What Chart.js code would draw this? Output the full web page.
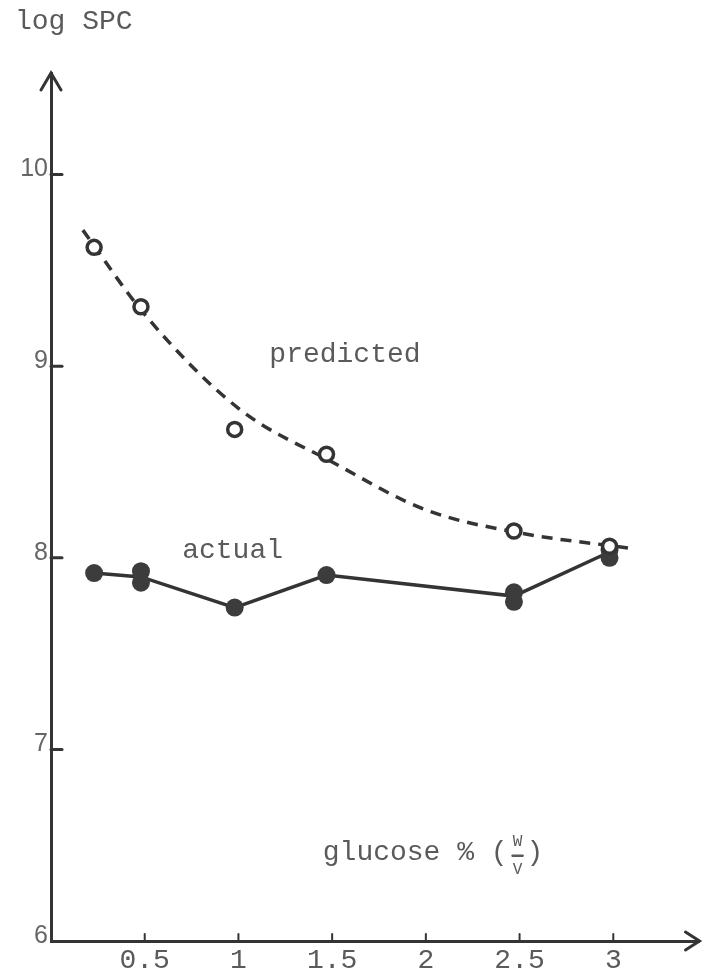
<!DOCTYPE html>
<html>
<head>
<meta charset="utf-8">
<script src="https://cdn.jsdelivr.net/npm/chart.js@4"></script>
<style>
  html, body { margin: 0; padding: 0; background: #fff; }
  #wrap { width: 710px; height: 978px; }
</style>
</head>
<body>
<div id="wrap"><canvas id="spcChart" width="710" height="978"></canvas></div>
<script>
// glucose % (w/v) at which samples were measured
const glucose = [0.23, 0.48, 0.98, 1.47, 2.47, 2.98];
const predicted = [9.62, 9.31, 8.67, 8.54, 8.14, 8.06];
// line through the actual values
const actualLine = [7.92, 7.90, 7.74, 7.91, 7.80, 8.03];
// replicate actual points (some overlap)
const actualX = [0.23, 0.48, 0.48, 0.98, 1.47, 2.47, 2.47, 2.98, 2.98];
const actualY = [7.92, 7.93, 7.87, 7.74, 7.91, 7.82, 7.77, 8.04, 8.00];
// hand drawn dashed fit of the predicted values
const fitX = [0.17, 0.5, 1, 1.5, 2, 2.5, 3.09];
const fitY = [9.71, 9.27, 8.78, 8.50, 8.25, 8.13, 8.05];

const xTicks = [0.5, 1, 1.5, 2, 2.5, 3];
const yTicks = [6, 7, 8, 9, 10];

const ink = '#343434';
const textGrey = '#5a5a5a';
const mono = 'Liberation Mono';

const toXY = (xs, ys) => xs.map((x, i) => ({ x: x, y: ys[i] }));

const decorations = {
    id: 'decorations',
    afterDraw(chart) {
        const ctx = chart.ctx;
        const area = chart.chartArea;
        const xs = chart.scales.x;
        const ys = chart.scales.y;
        ctx.save();
        ctx.strokeStyle = ink;
        ctx.lineWidth = 3;
        ctx.lineCap = 'round';

        // inward tick marks
        yTicks.forEach((v) => {
            if (v === 6) return;
            const py = ys.getPixelForValue(v);
            ctx.beginPath();
            ctx.moveTo(area.left, py);
            ctx.lineTo(area.left + 11, py);
            ctx.stroke();
        });
        ctx.lineWidth = 2;
        xTicks.forEach((v) => {
            const px = xs.getPixelForValue(v);
            ctx.beginPath();
            ctx.moveTo(px, area.bottom);
            ctx.lineTo(px, area.bottom - 7);
            ctx.stroke();
        });

        // arrow heads
        ctx.lineWidth = 3;
        ctx.beginPath();
        ctx.moveTo(area.left - 10, area.top + 17);
        ctx.lineTo(area.left, area.top);
        ctx.lineTo(area.left + 10, area.top + 17);
        ctx.stroke();
        ctx.beginPath();
        ctx.moveTo(area.right - 14, area.bottom - 9);
        ctx.lineTo(area.right, area.bottom);
        ctx.lineTo(area.right - 14, area.bottom + 9);
        ctx.stroke();

        // texts
        ctx.fillStyle = textGrey;
        ctx.textBaseline = 'middle';
        ctx.textAlign = 'left';
        ctx.font = '28px "' + mono + '"';
        ctx.fillText('log SPC', 15, 22);
        ctx.fillText('predicted', xs.getPixelForValue(1.165), ys.getPixelForValue(9.06));
        ctx.fillText('actual', xs.getPixelForValue(0.7), ys.getPixelForValue(8.04));

        const gx = xs.getPixelForValue(1.45);
        const gy = ys.getPixelForValue(6.46);
        ctx.fillText('glucose % (', gx, gy);
        const w = ctx.measureText('glucose % (').width;
        ctx.font = '16px "' + mono + '"';
        ctx.textAlign = 'center';
        const fx = gx + w + 10;
        ctx.fillText('W', fx, gy - 11);
        ctx.fillText('V', fx, gy + 17);
        ctx.lineWidth = 2.5;
        ctx.strokeStyle = textGrey;
        ctx.beginPath();
        ctx.moveTo(fx - 5, gy + 3);
        ctx.lineTo(fx + 5, gy + 3);
        ctx.stroke();
        ctx.font = '28px "' + mono + '"';
        ctx.textAlign = 'left';
        ctx.fillText(')', fx + 9, gy);
        ctx.restore();
    },
};

const chartConfig = {
    type: 'scatter',
    data: {
        datasets: [
            {
                label: 'predicted',
                data: toXY(glucose, predicted),
                pointStyle: 'circle',
                pointRadius: 7,
                pointBorderWidth: 3.5,
                pointBackgroundColor: '#ffffff',
                pointBorderColor: ink,
                showLine: false,
            },
            {
                label: 'actual points',
                data: toXY(actualX, actualY),
                pointRadius: 9,
                pointBorderWidth: 0,
                pointBackgroundColor: '#3c3c3c',
                showLine: false,
            },
            {
                type: 'line',
                label: 'predicted fit',
                data: toXY(fitX, fitY),
                borderColor: ink,
                borderWidth: 3.5,
                borderDash: [11, 8],
                cubicInterpolationMode: 'monotone',
                pointRadius: 0,
                fill: false,
            },
            {
                type: 'line',
                label: 'actual',
                data: toXY(glucose, actualLine),
                borderColor: ink,
                borderWidth: 3.5,
                tension: 0,
                pointRadius: 0,
                fill: false,
            },
        ],
    },
    options: {
        responsive: false,
        animation: false,
        clip: false,
        layout: { padding: { top: 73, right: 2, left: 0, bottom: 0 } },
        plugins: {
            legend: { display: false },
            tooltip: { enabled: false },
        },
        scales: {
            x: {
                type: 'linear',
                min: 0,
                max: 3.46,
                afterBuildTicks: (scale) => {
                    scale.ticks = xTicks.map((v) => ({ value: v }));
                },
                afterFit: (scale) => { scale.height = 37; },
                grid: { display: false, drawTicks: false },
                border: { display: true, color: ink, width: 3 },
                ticks: {
                    padding: 3,
                    color: textGrey,
                    font: { family: mono, size: 28 },
                    callback: (v) => String(v),
                },
            },
            y: {
                type: 'linear',
                min: 6,
                max: 10.53,
                afterBuildTicks: (scale) => {
                    scale.ticks = yTicks.map((v) => ({ value: v }));
                },
                afterFit: (scale) => { scale.width = 51; },
                grid: { display: false, drawTicks: false },
                border: { display: true, color: ink, width: 3 },
                ticks: {
                    padding: 3,
                    labelOffset: -5,
                    color: '#666666',
                    font: { family: 'Liberation Sans', size: 25 },
                    callback: (v) => String(v),
                },
            },
        },
    },
    plugins: [decorations],
};

const ctx = document.getElementById('spcChart').getContext('2d');
new Chart(ctx, chartConfig);
</script>
</body>
</html>
